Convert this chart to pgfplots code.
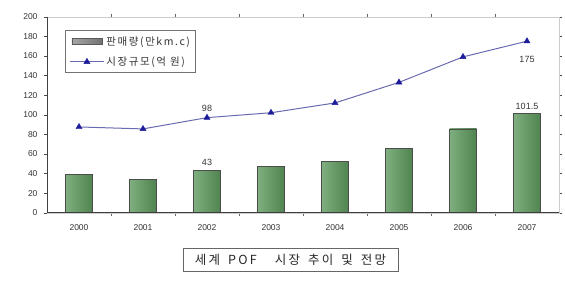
\documentclass[border=0pt]{standalone}
\usepackage{pgfplots}
\pgfplotsset{compat=1.18}
\usepackage{fontspec}
\setmainfont{Liberation Sans}
\newfontfamily\krw[LetterSpace=15]{Noto Sans CJK KR}
\newfontfamily\krt[LetterSpace=18]{Noto Sans CJK KR}
\definecolor{linec}{HTML}{6A6AB0}
\definecolor{markc}{HTML}{1C1C9A}
\definecolor{barL}{HTML}{7FAF7F}
\definecolor{barM}{HTML}{D2ECCE}
\definecolor{barR}{HTML}{4F834F}
\pgfplotsset{onebar/.style={ybar, bar width=27pt, draw=black!70, line width=0.8pt,
  left color=barL, middle color=barM, right color=barR, forget plot}}
\begin{document}
\begin{tikzpicture}[x=1pt,y=1pt]
\path[use as bounding box] (0,0) rectangle (565,282);
\begin{axis}[
  at={(47pt,69.3pt)}, anchor=south west,
  scale only axis, width=512pt, height=196pt,
  xmin=-0.5, xmax=7.5, ymin=0, ymax=200,
  ytick={0,20,...,200},
  xtick={0,...,7}, xticklabels={2000,2001,2002,2003,2004,2005,2006,2007},
  minor xtick={0.5,1.5,...,6.5},
  major x tick style={draw=none},
  minor x tick style={draw=black!60},
  ytick style={draw=black!70},
  tick align=outside, major tick length=3pt, minor tick length=3pt,
  axis line style={draw=black!20},
  /pgf/number format/assume math mode=true,
  tick label style={font=\fontsize{8.5}{10}\selectfont, text=black!80},
  xticklabel style={yshift=-5pt},
  yticklabel style={xshift=-3pt},
  legend style={at={(rel axis cs:0.035,0.932)}, anchor=north west,
    draw=black!55, line width=1pt, font=\krw\fontsize{10.5}{11.5}\selectfont,
    inner xsep=4pt, inner ysep=4pt, row sep=6pt, text=black!80,
    /tikz/every even column/.append style={column sep=6pt}},
  legend cell align=left,
]
\addplot[onebar] coordinates {(0,39)};
\addplot[onebar] coordinates {(1,34)};
\addplot[onebar] coordinates {(2,43)};
\addplot[onebar] coordinates {(3,47)};
\addplot[onebar] coordinates {(4,52)};
\addplot[onebar] coordinates {(5,66)};
\addplot[onebar] coordinates {(6,85.5)};
\addplot[onebar] coordinates {(7,101.5)};
\addlegendimage{legend image code/.code={\draw[draw=black!65, line width=0.8pt, left color=black!35, middle color=black!25, right color=black!55] (2pt,-3pt) rectangle (32pt,3pt);}}
\addlegendentry{판매량(만km.c)}
\addplot[color=linec, line width=1pt, mark=triangle*, mark size=3.5pt,
  mark options={fill=markc, draw=markc, line width=0.4pt},
  legend image code/.code={\draw[mark repeat=2,mark phase=2] plot coordinates {(0pt,0pt) (17pt,0pt) (34pt,0pt)};}]
  coordinates {(0,87.5) (1,85.5) (2,97) (3,102) (4,112) (5,133) (6,159) (7,175)};
\addlegendentry{시장규모(억 원)}
\draw[black!75, line width=0.8pt] (rel axis cs:0,1) -- (rel axis cs:0,0) -- (rel axis cs:1,0);
\node[font=\fontsize{9}{10}\selectfont, text=black!80, anchor=south] at (axis cs:2,100) {98};
\node[font=\fontsize{9}{10}\selectfont, text=black!80, anchor=south] at (axis cs:2,44) {43};
\node[font=\fontsize{9}{10}\selectfont, text=black!80, anchor=north] at (axis cs:7,163) {175};
\node[font=\fontsize{9}{10}\selectfont, text=black!80, anchor=south] at (axis cs:7,102) {101.5};
\end{axis}
\node[draw=black!60, line width=1pt, minimum width=215pt, minimum height=23pt, inner sep=0pt,
  font=\krt\fontsize{12.5}{13}\selectfont, text=black!85] at (290.5,22) {세계\hspace{8pt}POF\hspace{18pt}시장\hspace{8pt}추이\hspace{8pt}및\hspace{8pt}전망};
\end{tikzpicture}
\end{document}
